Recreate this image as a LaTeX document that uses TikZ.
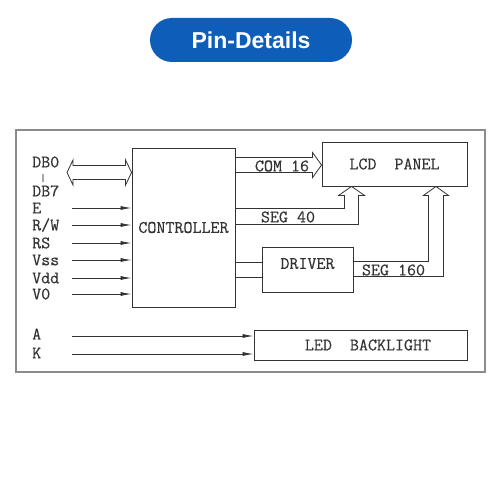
\documentclass[tikz,border=0pt]{standalone}
\usepackage{fontspec}
\setsansfont{Liberation Sans}
\newfontfamily\diagfont{Latin Modern Mono}[FakeBold=0.4]
\usepackage{tikz}
\usetikzlibrary{calc,arrows.meta}
\definecolor{pill}{HTML}{0E5DB8}
\definecolor{ink}{HTML}{333333}
\definecolor{frame}{HTML}{8C8C8C}
\tikzset{
  blk/.style={draw=ink, line width=0.9pt, inner sep=0pt},
  sig/.style={draw=ink, line width=0.8pt, -{Latex[length=11pt,width=4pt]}},
  wire/.style={draw=ink, line width=0.8pt},
  bus/.style={draw=ink, line width=0.8pt, line join=miter},
  pin/.style={anchor=west, inner sep=0pt},
  every node/.style={font=\diagfont\fontsize{17.5}{17.5}\selectfont, text=ink}
}

\begin{document}
\begin{tikzpicture}[x=1pt, y=-1pt]
  \useasboundingbox (0,0) rectangle (500,500);

  % title
  \node[fill=pill, rounded corners=22pt, minimum width=202pt, minimum height=44pt,
        text=white, font=\sffamily\bfseries\fontsize{23}{23}\selectfont] (title) at (251,40) {Pin-Details};

  \draw[frame, line width=1.3pt] (16,130) rectangle (485,372);

  % blocks
  \node[blk, minimum width=103pt, minimum height=159pt] (ctrl) at (183.5,227.5) {CONTROLLER};
  \node[blk, minimum width=145pt, minimum height=44pt] (lcd) at (394.5,164) {LCD\ \ PANEL};
  \node[blk, minimum width=91pt, minimum height=45pt, text depth=12pt] (drv) at (307.5,269.5) {DRIVER};
  \node[blk, minimum width=213pt, minimum height=30pt] (led) at (360.5,345) {\hspace*{15pt}LED\ \ BACKLIGHT};

  % data bus
  \node[pin] (db0) at (32,162) {DB0};
  \node[font=\diagfont\fontsize{10}{10}\selectfont, inner sep=0pt] (dbbar) at (43,178) {|};
  \node[pin] (db7) at (32,191) {DB7};
  \coordinate (dbL) at (67,172.5);
  \coordinate (dbR) at (ctrl.west |- dbL);
  \draw[bus] (dbL) -- ++(6,-12.5) -- ++(0,5.5) -- ($(dbR)+(-6,-7)$) -- ++(0,-5.5) -- (dbR)
    -- ++(-6,12.5) -- ++(0,-5.5) -- ($(dbL)+(6,7)$) -- ++(0,5.5) -- cycle;

  % control pins
  \foreach \n/\t/\y in {e/E/208, rw/{R/W}/225, rs/RS/243, vss/Vss/260, vdd/Vdd/278, vo/V0/294}{
    \node[pin] (p\n) at (32,\y) {\t};
    \coordinate (s\n) at (72,\y);
    \draw[sig] (s\n) -- (s\n -| ctrl.west);
  }

  % COM 16
  \coordinate (comL) at ($(ctrl.north east)+(0,17.5)$);
  \coordinate (comR) at (lcd.west |- comL);
  \draw[bus] ($(comL)+(0,-7.5)$) -- ($(comR)+(-9,-7.5)$) -- ++(0,-5) -- (comR)
    -- ++(-9,12.5) -- ++(0,-5) -- ($(comL)+(0,7.5)$);
  \node (com16) at (282,166) {COM 16};

  % SEG 40
  \coordinate (s40) at ($(lcd.south west)+(30,0)$);
  \coordinate (s40a) at ($(ctrl.north east)+(0,61)$);
  \coordinate (s40b) at ($(ctrl.north east)+(0,77)$);
  \coordinate (s40l) at ($(s40)+(-7,9)$);
  \draw[bus] (s40a) -- (s40l |- s40a) -- (s40l) -- ++(-6,0) -- (s40) -- ++(13,9) -- ++(-6,0)
    coordinate (s40r) -- (s40r |- s40b) -- (s40b);
  \node (seg40) at (288,217) {SEG 40};

  % driver
  \coordinate (c1) at ($(ctrl.north east)+(0,115)$);
  \coordinate (c2) at ($(ctrl.north east)+(0,130)$);
  \draw[wire] (c1) -- (c1 -| drv.west);
  \draw[wire] (c2) -- (c2 -| drv.west);

  % SEG 160
  \coordinate (s160) at ($(lcd.south east)+(-31.5,0)$);
  \coordinate (d1) at ($(drv.north east)+(0,15)$);
  \coordinate (d2) at ($(drv.north east)+(0,30)$);
  \coordinate (s160l) at ($(s160)+(-7.5,9)$);
  \draw[bus] (d1) -- (s160l |- d1) -- (s160l) -- ++(-5,0) -- (s160) -- ++(12.5,9) -- ++(-5,0)
    coordinate (s160r) -- (s160r |- d2) -- (d2);
  \node (seg160) at (393.5,270) {SEG 160};

  % backlight
  \node[pin] (pa) at (32,334) {A};
  \node[pin] (pk) at (32,353) {K};
  \coordinate (sa) at (72,336);
  \coordinate (sk) at (72,354);
  \draw[sig] (sa) -- (sa -| led.west);
  \draw[sig] (sk) -- (sk -| led.west);
\end{tikzpicture}
\end{document}
